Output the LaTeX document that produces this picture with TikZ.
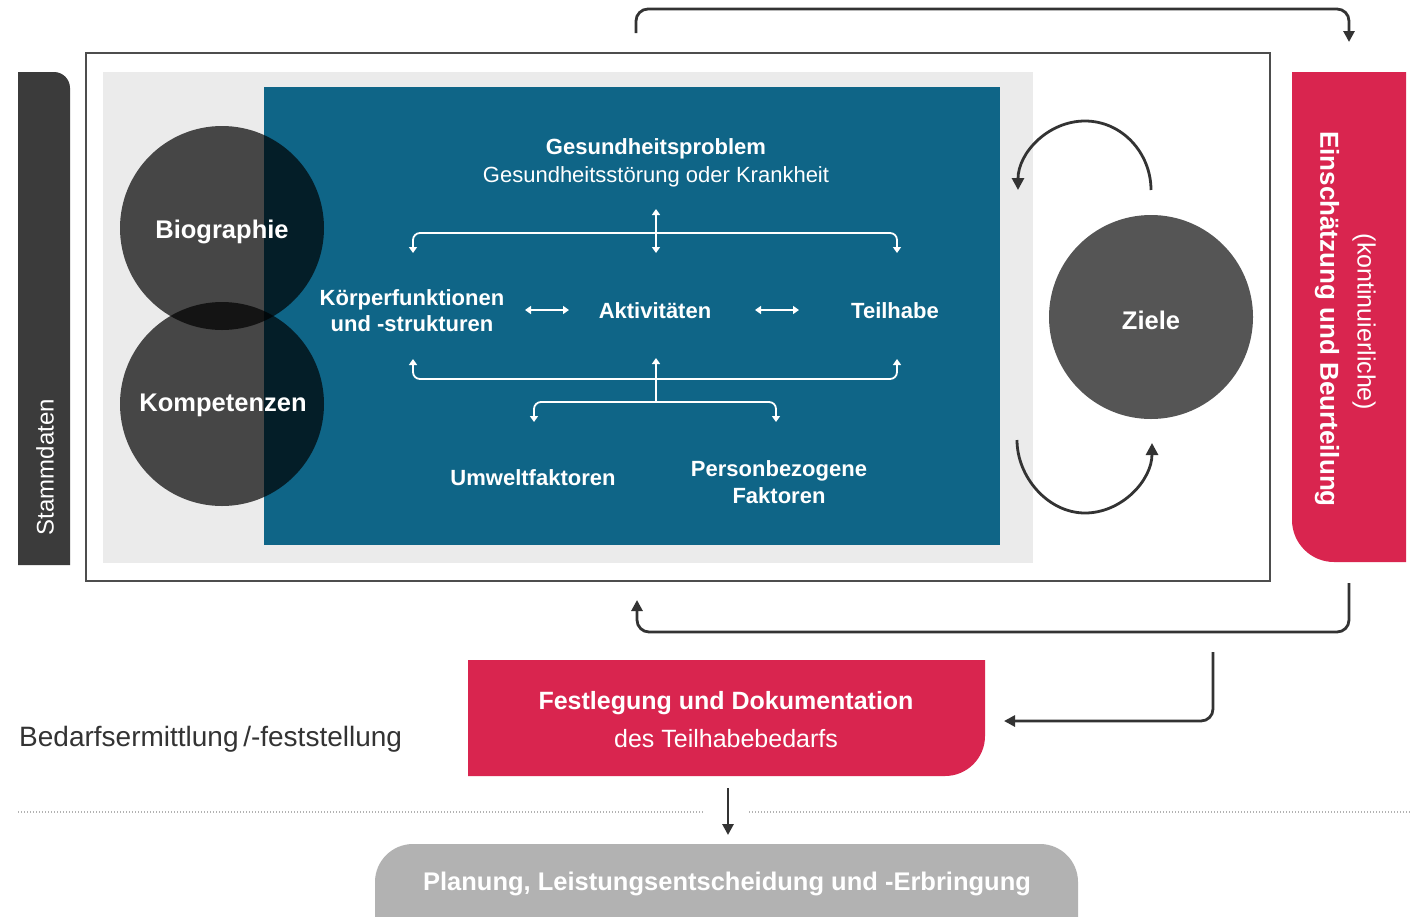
\documentclass[tikz,border=0pt]{standalone}
\usepackage{fontspec}
\setmainfont{Liberation Sans}
\usetikzlibrary{arrows.meta}
\definecolor{icfblue}{HTML}{0F6587}
\definecolor{icfred}{HTML}{D9254F}
\definecolor{darkbar}{HTML}{3B3B3B}
\definecolor{lgray}{HTML}{EBEBEB}
\definecolor{zgray}{HTML}{555555}
\definecolor{pgray}{HTML}{B2B2B2}
\definecolor{conncol}{HTML}{333333}
\definecolor{framecol}{HTML}{4D4D4D}
\newcommand\setfs[2]{\fontsize{#1}{#2}\selectfont}
\tikzset{
  wtxt/.style={text=white, inner sep=0pt, align=center},
  darkconn/.style={draw=conncol, line width=2.8pt, rounded corners=12pt, -{Triangle[length=11pt,width=11pt]}},
  whitearr/.style={draw=white, line width=1.8pt, rounded corners=7pt},
  wtip/.style={{Triangle[length=6pt,width=8pt]}-{Triangle[length=6pt,width=8pt]}},
  wtipend/.style={-{Triangle[length=6pt,width=8pt]}},
  cycarr/.style={draw=conncol, line width=2.8pt, -{Triangle[length=12pt,width=12pt]}},
  bubble/.style={circle, minimum size=204pt, inner sep=0pt, fill=black, fill opacity=0.7, text opacity=1, text=white, font=\bfseries\setfs{25.5}{30}},
}
\begin{document}
\begin{tikzpicture}[x=1pt,y=-1pt]
\useasboundingbox (0,0) rectangle (1412,916);
\fill[white] (0,0) rectangle (1412,916);

% frames and areas
\draw[framecol, line width=1.5pt] (86,53) rectangle (1270,581);
\fill[lgray] (103,72) rectangle (1033,563);
\fill[icfblue] (264,87) rectangle (1000,545);

% Stammdaten bar
\fill[darkbar] (18,565) -- (18,72) -- (54,72) .. controls (62.8,72) and (70,79.2) .. (70,88) -- (70,565) -- cycle;
\node[wtxt, rotate=90, font=\setfs{24}{28}] (stamm) at (45,467) {Stammdaten};

% bubbles
\node[bubble] (bio) at (222,228) {};
\node[bubble] (komp) at (222,404) {};
\node[wtxt, font=\bfseries\setfs{25.5}{30}] (biot) at (222,232) {Biographie};
\node[wtxt, font=\bfseries\setfs{25.5}{30}] (kompt) at (223,405) {Kompetenzen};

% ICF texts
\node[wtxt, font=\bfseries\setfs{22}{26}] (gp) at (656,149) {Gesundheitsproblem};
\node[wtxt, font=\setfs{22}{26}] (gs) at (656,177) {Gesundheitsstörung oder Krankheit};
\node[wtxt, font=\bfseries\setfs{22}{26}] (kf) at (412,311) {Körperfunktionen\\und -strukturen};
\node[wtxt, font=\bfseries\setfs{22}{26}] (akt) at (655,311) {Aktivitäten};
\node[wtxt, font=\bfseries\setfs{22}{26}] (teil) at (895,311) {Teilhabe};
\node[wtxt, font=\bfseries\setfs{22}{27}] (umw) at (533,478) {Umweltfaktoren};
\node[wtxt, font=\bfseries\setfs{22}{27}] (pers) at (779,482) {Personbezogene\\Faktoren};

% ICF arrows
\coordinate (gt) at (656,209);
\coordinate (gb) at (656,253);
\coordinate (kfT) at (413,253);
\coordinate (tT) at (897,253);
\coordinate (kfB) at (413,359);
\coordinate (tB) at (897,359);
\coordinate (aB) at (656,358);
\coordinate (cf) at (656,402);
\coordinate (uT) at (534,422);
\coordinate (pT) at (776,422);
\coordinate (kfe) at (525,310);
\coordinate (ake) at (569,310);
\coordinate (akw) at (755,310);
\coordinate (tw) at (799,310);
\draw[whitearr, wtip] (gt) -- (gb);
\draw[whitearr, wtip] (kfT) -- (413,233) -- (897,233) -- (tT);
\draw[whitearr, wtip] (kfe) -- (ake);
\draw[whitearr, wtip] (akw) -- (tw);
\draw[whitearr, wtip] (kfB) -- (413,379) -- (897,379) -- (tB);
\draw[whitearr, wtipend] (cf) -- (aB);
\draw[whitearr, wtip] (uT) -- (534,402) -- (776,402) -- (pT);

% Ziele
\node[circle, minimum size=204pt, inner sep=0pt, fill=zgray] (ziele) at (1151,317) {};
\node[wtxt, font=\bfseries\setfs{25.5}{30}] (zielet) at (1151,320) {Ziele};
\coordinate (c1s) at (1151,190);
\coordinate (c1e) at (1018,190);
\coordinate (c2s) at (1017,440);
\coordinate (c2e) at (1152,443);
\draw[cycarr] (c1s) .. controls (1151,153) and (1122,121) .. (1085,121) .. controls (1048,121) and (1018,153) .. (c1e);
\draw[cycarr] (c2s) .. controls (1017,477) and (1048,513) .. (1085,513) .. controls (1122,513) and (1152,480) .. (c2e);

% red right box
\fill[icfred] (1292,72) -- (1406,72) -- (1406,562) -- (1334,562) .. controls (1310.8,562) and (1292,543.2) .. (1292,520) -- cycle;
\node[wtxt, rotate=-90, font=\bfseries\setfs{26}{30}] (ein) at (1327,319) {Einschätzung und Beurteilung};
\node[wtxt, rotate=-90, font=\setfs{25}{30}] (kont) at (1364,322) {(kontinuierliche)};

% Festlegung box
\fill[icfred] (468,660) -- (985,660) -- (985,736) .. controls (985,758.1) and (967.1,776) .. (945,776) -- (468,776) -- cycle;
\node[wtxt, font=\bfseries\setfs{25}{30}] (fest) at (726,703) {Festlegung und Dokumentation};
\node[wtxt, font=\setfs{25}{30}] (desT) at (726,739) {des Teilhabebedarfs};

% left label
\node[inner sep=0pt, anchor=west, text=conncol, font=\setfs{28}{32}] (bedarf) at (19,739) {Bedarfsermittlung\,/-feststellung};

% dotted separator
\draw[gray!60, line width=1.4pt, dash pattern=on 0.8pt off 2.2pt] (18,812) -- (703,812);
\draw[gray!60, line width=1.4pt, dash pattern=on 0.8pt off 2.2pt] (749,812) -- (1410,812);

% Planung pill
\fill[pgray, rounded corners=38pt] (375,844) rectangle (1078,990);
\node[wtxt, font=\bfseries\setfs{25.5}{30}] (plan) at (727,884) {Planung, Leistungsentscheidung und -Erbringung};

% dark connectors
\coordinate (topL) at (636,33);
\coordinate (topR) at (1349,42);
\coordinate (botR) at (1349,583);
\coordinate (botL) at (637,600);
\coordinate (secS) at (1213,652);
\coordinate (secE) at (1004,721);
\coordinate (dnS) at (728,788);
\coordinate (dnE) at (728,835);
\draw[darkconn] (topL) -- (636,9) -- (1349,9) -- (topR);
\draw[darkconn] (botR) -- (1349,632) -- (637,632) -- (botL);
\draw[darkconn] (secS) -- (1213,721) -- (secE);
\draw[darkconn, rounded corners=0pt] (dnS) -- (dnE);
\end{tikzpicture}
\end{document}
